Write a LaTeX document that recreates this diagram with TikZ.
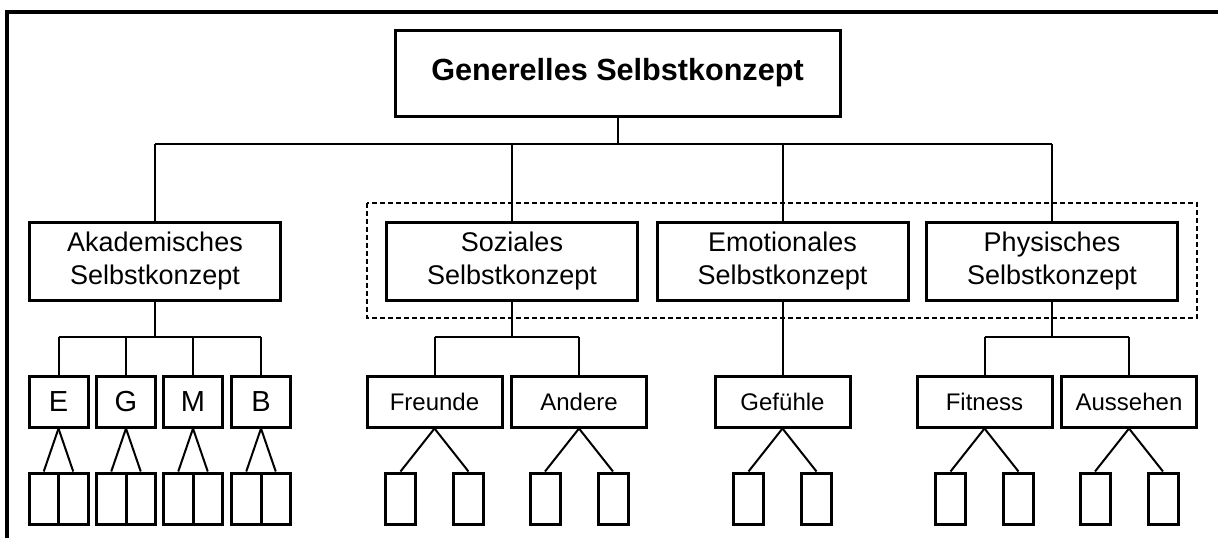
\documentclass[tikz,border=0pt]{standalone}
\usepackage{fontspec}
\setmainfont{Liberation Sans}
\begin{document}
\begin{tikzpicture}[x=1pt,y=-1pt,
  box/.style={draw, line width=3pt, inner sep=0pt, minimum height=51pt},
  topbox/.style={box, minimum width=445pt, minimum height=86pt, font=\bfseries\fontsize{30.6}{36}\selectfont},
  lvltwo/.style={box, minimum width=251pt, minimum height=78pt, align=center, font=\fontsize{27}{32.5}\selectfont},
  lvlthree/.style={box, minimum width=135pt, font=\fontsize{24}{28}\selectfont},
  subj/.style={box, minimum width=59pt, font=\fontsize{29}{33}\selectfont},
  leaf/.style={box, minimum width=30pt},
  halfleaf/.style={box, minimum width=29.5pt},
  conn/.style={line width=2pt},
  frame/.style={line width=4pt},
  group/.style={line width=1.5pt, dash pattern=on 5pt off 3pt}
]
\useasboundingbox (0,0) rectangle (1218,538);

% outer frame (only left and top edges visible)
\draw[frame] (7,545) -- (7,12) -- (1225,12);

% top
\node[topbox] (top) at (617.5,73) {Generelles Selbstkonzept};

% level 2
\node[lvltwo] (akad) at (155,261) {Akademisches\\Selbstkonzept};
\node[lvltwo] (soz)  at (512,261) {Soziales\\Selbstkonzept};
\node[lvltwo] (emo)  at (782.5,261) {Emotionales\\Selbstkonzept};
\node[lvltwo] (phys) at (1052,261) {Physisches\\Selbstkonzept};

% dashed group frame
\coordinate (gtl) at (367,203);
\coordinate (gbr) at (1197,318);
\draw[group] (gtl) rectangle (gbr);

% top bus
\coordinate (bus) at (0,144);
\draw[conn] (top.south) -- (top.south |- bus);
\draw[conn] (akad.north |- bus) -- (phys.north |- bus);
\foreach \n in {akad,soz,emo,phys} {
  \draw[conn] (\n.north |- bus) -- (\n.north);
}

% level 3
\coordinate (sbus) at (0,337);

% academic subjects
\foreach \nm/\cx/\lab in {e/58.5/E, g/126/G, m/193/M, b/261/B} {
  \node[subj] (\nm) at (\cx,401.5) {\lab};
  \node[halfleaf] (\nm1) at (\cx-14.75,498.5) {};
  \node[halfleaf] (\nm2) at (\cx+14.75,498.5) {};
  \draw[conn] (\nm.south) -- (\nm1.north);
  \draw[conn] (\nm.south) -- (\nm2.north);
  \draw[conn] (\nm.north |- sbus) -- (\nm.north);
}
\draw[conn] (akad.south) -- (akad.south |- sbus);
\draw[conn] (e.north |- sbus) -- (b.north |- sbus);

% other domains
\foreach \nm/\cx/\lab in {fr/434.5/Freunde, an/579/Andere, gf/782.5/Gefühle, fi/984.5/Fitness, au/1129/Aussehen} {
  \node[lvlthree] (\nm) at (\cx,401.5) {\lab};
  \node[leaf] (\nm1) at (\cx-34,498.5) {};
  \node[leaf] (\nm2) at (\cx+34,498.5) {};
  \draw[conn] (\nm.south) -- (\nm1.north);
  \draw[conn] (\nm.south) -- (\nm2.north);
}
\draw[conn] (soz.south) -- (soz.south |- sbus);
\draw[conn] (fr.north |- sbus) -- (an.north |- sbus);
\draw[conn] (fr.north |- sbus) -- (fr.north);
\draw[conn] (an.north |- sbus) -- (an.north);

\draw[conn] (emo.south) -- (gf.north);

\draw[conn] (phys.south) -- (phys.south |- sbus);
\draw[conn] (fi.north |- sbus) -- (au.north |- sbus);
\draw[conn] (fi.north |- sbus) -- (fi.north);
\draw[conn] (au.north |- sbus) -- (au.north);
\end{tikzpicture}
\end{document}
